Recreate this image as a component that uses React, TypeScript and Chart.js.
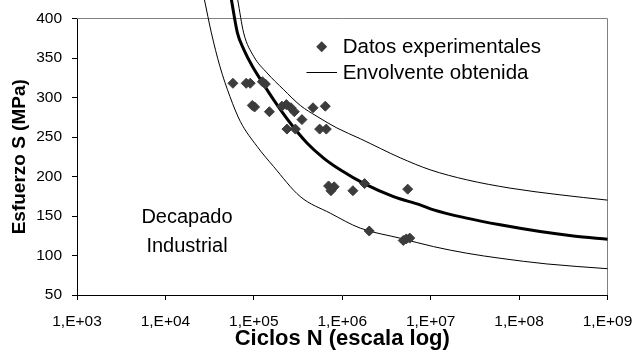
import { useEffect, useRef } from 'react';
import { Chart, registerables } from 'chart.js';

Chart.register(...registerables);

// Ensayos de fatiga: ciclos hasta rotura y esfuerzo aplicado
const expCycles = [
  5.8e4, 8.2e4, 9.1e4, 1.25e5, 1.35e5, 9.6e4, 1.02e5, 1.5e5, 2.08e5, 2.33e5,
  2.63e5, 2.87e5, 3.5e5, 2.37e5, 2.95e5, 4.67e5, 6.43e5, 5.55e5, 6.6e5, 7.0e5,
  8.1e5, 7.45e5, 1.32e6, 1.79e6, 5.5e6, 2.02e6, 4.9e6, 5.3e6, 5.8e6,
];
const expStress = [
  318, 318, 318, 320, 317, 290, 288, 282, 289, 291,
  287, 282, 272, 260, 260, 287, 289, 260, 260, 188,
  187, 182, 182, 191, 184, 131, 119, 121, 122,
];

// Curva media (trazo grueso)
const meanCycles = [
  5.57e4, 6.52e4, 7.71e4, 9.62e4, 1.26e5, 1.67e5, 2.58e5, 3.99e5, 6.15e5, 9.48e5,
  1.79e6, 3.8e6, 7.6e6, 1.08e7, 2.56e7, 6.1e7, 1.73e8, 4.11e8, 1e9,
];
const meanStress = [
  424, 381.8, 360.7, 339.5, 318.4, 297.3, 267.7, 242.4, 223.3, 208.5,
  190.7, 174.6, 164.1, 157.8, 147.3, 138.8, 130.3, 124.8, 120.6,
];

// Envolvente superior
const upperCycles = [
  6.56e4, 7.67e4, 9.95e4, 1.41e5, 2.17e5, 3.35e5, 5.18e5, 8.71e5, 1.6e6, 4.52e6,
  9.86e6, 2.56e7, 7.91e7, 2.9e8, 1e9,
];
const upperStress = [
  424, 381.8, 352.2, 331.1, 310, 290, 276.1, 261.4, 247.8, 223.7,
  208.5, 195.8, 185.3, 176.8, 170.1,
];

// Envolvente inferior
const lowerCycles = [
  2.76e4, 3.31e4, 4.13e4, 5.36e4, 7.03e4, 1.09e5, 1.67e5, 3.35e5, 7.31e5, 1.6e6,
  4.52e6, 1.08e7, 2.56e7, 6.1e7, 2.06e8, 1e9,
];
const lowerStress = [
  424, 381.8, 339.5, 301.4, 269.7, 238, 212.7, 174.6, 153.6, 134.6,
  121.9, 111.2, 102.9, 96.5, 89.3, 83.3,
];

const xTickValues = [1e3, 1e4, 1e5, 1e6, 1e7, 1e8, 1e9];
const xTickLabels = ['1,E+03', '1,E+04', '1,E+05', '1,E+06', '1,E+07', '1,E+08', '1,E+09'];
const yTickStep = 50;
const yMin = 50;
const yMax = 400;

const legendLabels = ['Datos experimentales', 'Envolvente obtenida'];
const noteLines = ['Decapado', 'Industrial'];
const xTitle = 'Ciclos N (escala log)';
const yTitle = 'Esfuerzo S (MPa)';

const FONT = '"Liberation Sans", Arial, sans-serif';
const MARKER = '#3c3c3c';

const toPoints = (xs: number[], ys: number[]) => xs.map((x, i) => ({ x, y: ys[i] }));

const overlay = {
  id: 'overlay',
  beforeDatasetsDraw(chart: any) {
    const { ctx, chartArea: a } = chart;
    ctx.save();
    ctx.strokeStyle = '#808080';
    ctx.lineWidth = 1;
    ctx.beginPath();
    ctx.moveTo(a.left, a.top);
    ctx.lineTo(a.right, a.top);
    ctx.lineTo(a.right, a.bottom);
    ctx.stroke();
    ctx.restore();
  },
  afterDraw(chart: any) {
    const { ctx } = chart;
    ctx.save();
    // leyenda
    ctx.fillStyle = MARKER;
    const dx = 321.7, dy = 46.7, r = 5.5;
    ctx.beginPath();
    ctx.moveTo(dx - r, dy);
    ctx.lineTo(dx, dy - r);
    ctx.lineTo(dx + r, dy);
    ctx.lineTo(dx, dy + r);
    ctx.closePath();
    ctx.fill();
    ctx.strokeStyle = '#000';
    ctx.lineWidth = 1;
    ctx.beginPath();
    ctx.moveTo(306.5, 72.5);
    ctx.lineTo(337, 72.5);
    ctx.stroke();
    ctx.fillStyle = '#000';
    ctx.font = `20.5px ${FONT}`;
    ctx.textAlign = 'left';
    ctx.textBaseline = 'alphabetic';
    ctx.fillText(legendLabels[0], 342.7, 53);
    ctx.fillText(legendLabels[1], 342.7, 78.5);
    // rótulo
    ctx.font = `20px ${FONT}`;
    ctx.textAlign = 'center';
    ctx.fillText(noteLines[0], 187, 223);
    ctx.fillText(noteLines[1], 187, 251.5);
    ctx.restore();
  },
};

export default function App() {
  const ref = useRef<HTMLCanvasElement>(null);

  useEffect(() => {
    const canvas = ref.current;
    if (!canvas) return;
    const curve = (xs: number[], ys: number[], w: number) => ({
      data: toPoints(xs, ys),
      showLine: true,
      borderColor: '#000',
      backgroundColor: '#000',
      borderWidth: w,
      pointRadius: 0,
      pointHoverRadius: 0,
      cubicInterpolationMode: 'monotone',
      clip: false,
      order: 2,
    });
    const chart = new Chart(canvas, {
      type: 'scatter',
      data: {
        datasets: [
          {
            label: legendLabels[0],
            data: toPoints(expCycles, expStress),
            pointStyle: 'rectRot',
            pointRadius: 5,
            backgroundColor: MARKER,
            borderColor: MARKER,
            borderWidth: 1,
            order: 1,
          },
          { label: legendLabels[1], ...curve(upperCycles, upperStress, 1) },
          { label: legendLabels[1], ...curve(lowerCycles, lowerStress, 1) },
          { label: 'media', ...curve(meanCycles, meanStress, 3) },
        ] as any,
      },
      options: {
        animation: false,
        responsive: false,
        devicePixelRatio: 1,
        layout: { padding: { top: 18.5, right: 31.5, left: 0, bottom: 0 } },
        plugins: { legend: { display: false }, tooltip: { enabled: false } },
        events: [],
        scales: {
          x: {
            type: 'logarithmic',
            min: xTickValues[0],
            max: xTickValues[xTickValues.length - 1],
            afterBuildTicks: (s: any) => {
              s.ticks = xTickValues.map((v) => ({ value: v }));
            },
            afterFit: (s: any) => {
              s.height = 63;
              s.paddingLeft = 0;
              s.paddingRight = 0;
            },
            ticks: {
              callback: (v: any) => xTickLabels[xTickValues.indexOf(Number(v))],
              font: { family: FONT, size: 15.5 },
              color: '#000',
              padding: 12,
              maxRotation: 0,
              autoSkip: false,
            },
            grid: { display: true, drawOnChartArea: false, drawTicks: true, tickLength: 5, color: '#000' },
            border: { display: true, color: '#000', width: 1 },
            title: {
              display: true,
              text: xTitle,
              color: '#000',
              font: { family: FONT, size: 22, weight: 'bold' },
              padding: { top: 0, bottom: 6 },
            },
          },
          y: {
            type: 'linear',
            min: yMin,
            max: yMax,
            afterFit: (s: any) => {
              s.width = 77;
              s.paddingTop = 0;
              s.paddingBottom = 0;
            },
            ticks: {
              stepSize: yTickStep,
              font: { family: FONT, size: 15.5 },
              color: '#000',
              padding: 10,
            },
            grid: { display: true, drawOnChartArea: false, drawTicks: true, tickLength: 5, color: '#000' },
            border: { display: true, color: '#000', width: 1 },
            title: {
              display: true,
              text: yTitle,
              color: '#000',
              font: { family: FONT, size: 19, weight: 'bold' },
              padding: { top: 8, bottom: 0 },
            },
          },
        },
      } as any,
      plugins: [overlay],
    });
    return () => chart.destroy();
  }, []);

  return (
    <div style={{ position: 'absolute', left: 0, top: 0, width: 639, height: 358, background: '#fff' }}>
      <canvas ref={ref} width={639} height={358} />
    </div>
  );
}
